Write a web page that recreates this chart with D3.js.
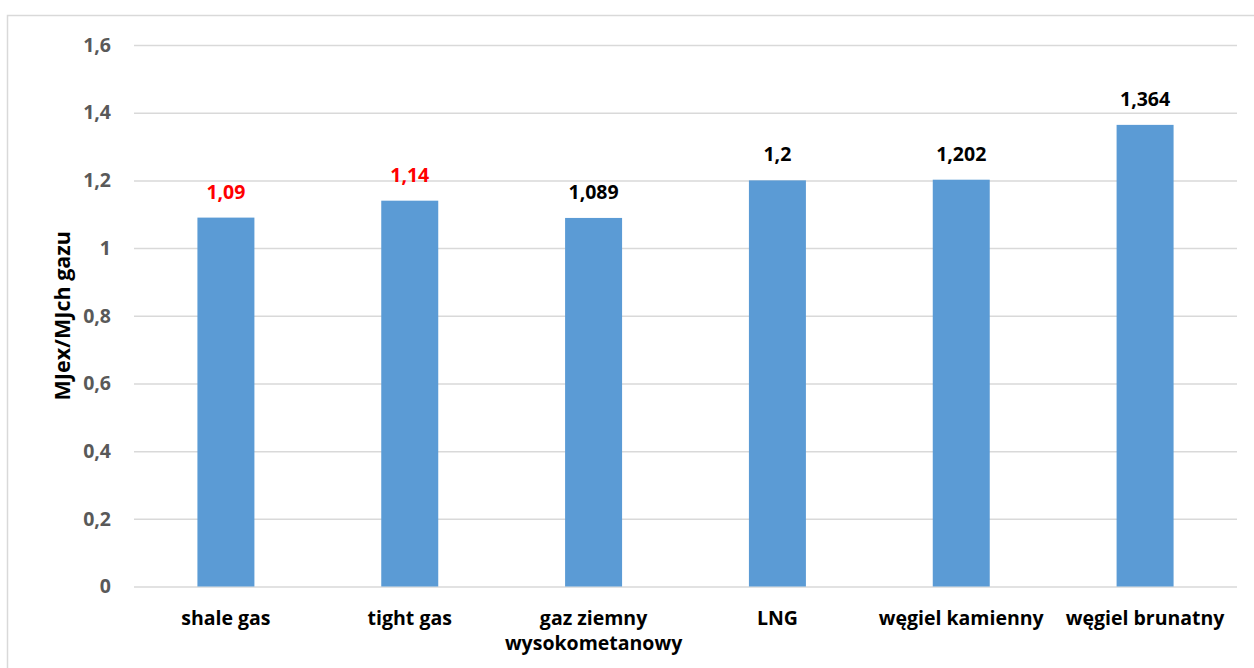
<!DOCTYPE html>
<html>
<head>
<meta charset="utf-8">
<script src="https://cdn.jsdelivr.net/npm/d3@7"></script>
<style>
  body { margin: 0; background: #fff; }
  text { font-family: "Open Sans", sans-serif; font-weight: bold; }
</style>
</head>
<body>
<div id="chart"></div>
<script>
const categories = ["shale gas", "tight gas", "gaz ziemny\nwysokometanowy", "LNG", "węgiel kamienny", "węgiel brunatny"];
const values = [1.09, 1.14, 1.089, 1.2, 1.202, 1.364];
const labelColors = ["#ff0000", "#ff0000", "#000", "#000", "#000", "#000"];
const yTicks = [0, 0.2, 0.4, 0.6, 0.8, 1, 1.2, 1.4, 1.6];

const width = 1254, height = 668;
const margin = { top: 45, right: 17, bottom: 81.5, left: 134 };

const svg = d3.select("#chart").append("svg")
    .attr("width", width)
    .attr("height", height);

// outer chart border
svg.append("rect")
    .attr("x", 7.5).attr("y", 15.5)
    .attr("width", width).attr("height", height)
    .attr("fill", "none")
    .attr("stroke", "#d9d9d9")
    .attr("stroke-width", 1.5);

const x = d3.scaleBand()
    .domain(categories)
    .range([margin.left, width - margin.right])
    .paddingInner(0.69)
    .paddingOuter(0.345);

const y = d3.scaleLinear()
    .domain([0, 1.6])
    .range([height - margin.bottom, margin.top]);

const fmt = v => String(v).replace(".", ",");

// gridlines + y tick labels
const yAxis = svg.append("g")
    .attr("transform", `translate(${margin.left},0)`)
    .call(d3.axisLeft(y).tickValues(yTicks).tickSize(-(width - margin.right - margin.left)).tickPadding(23).tickFormat(fmt))
    .call(g => g.select(".domain").remove());
yAxis.selectAll(".tick line").attr("stroke", "#d9d9d9").attr("stroke-width", 1.5);
yAxis.selectAll(".tick text")
    .attr("fill", "#595959")
    .style("font-size", "19.5px")
    .style("font-family", "'Open Sans', sans-serif")
    .style("font-weight", "bold");

// bars
svg.append("g")
    .selectAll("rect")
    .data(values)
    .join("rect")
    .attr("x", (d, i) => x(categories[i]))
    .attr("y", d => y(d))
    .attr("width", x.bandwidth())
    .attr("height", d => y(0) - y(d))
    .attr("fill", "#5b9bd5");

// value labels
svg.append("g")
    .selectAll("text")
    .data(values)
    .join("text")
    .attr("x", (d, i) => x(categories[i]) + x.bandwidth() / 2)
    .attr("y", d => y(d) - 19)
    .attr("text-anchor", "middle")
    .attr("fill", (d, i) => labelColors[i])
    .style("font-size", "19.5px")
    .text(d => fmt(d));

// category labels
const xLab = svg.append("g")
    .selectAll("text")
    .data(categories)
    .join("text")
    .attr("x", d => x(d) + x.bandwidth() / 2)
    .attr("y", y(0) + 38.5)
    .attr("text-anchor", "middle")
    .attr("fill", "#000")
    .style("font-size", "19.5px");
xLab.each(function(d) {
    const lines = d.split("\n");
    d3.select(this).selectAll("tspan")
        .data(lines)
        .join("tspan")
        .attr("x", x(d) + x.bandwidth() / 2)
        .attr("dy", (l, i) => i === 0 ? 0 : 25)
        .text(l => l);
});

// y axis title
svg.append("text")
    .attr("transform", `translate(70,${(y(0) + y(1.6)) / 2}) rotate(-90)`)
    .attr("text-anchor", "middle")
    .attr("fill", "#000")
    .style("font-size", "21.5px")
    .text("MJex/MJch gazu");
</script>
</body>
</html>
